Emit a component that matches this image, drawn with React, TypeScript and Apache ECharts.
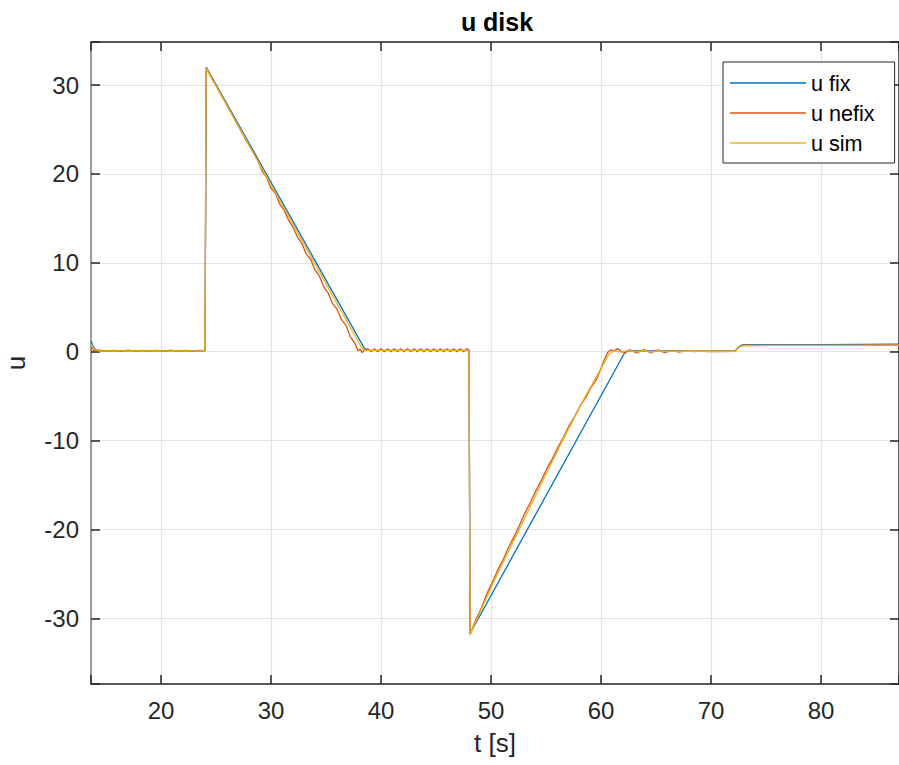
import React, { useEffect, useRef } from "react";
import * as echarts from "echarts";

const TITLE = "u disk";
const X_NAME = "t [s]";
const Y_NAME = "u";
const SERIES_NAMES = ["u fix", "u nefix", "u sim"];
const COLORS = ["#0072BD", "#D95319", "#EDB120"];

const X_MIN = 13.636;
const X_MAX = 87.09;
const Y_MIN = -37.38;
const Y_MAX = 34.84;

// u fix
const tFix = [13.64, 13.8, 14.0, 14.3, 24.0, 24.12, 38.5, 38.8, 48.0, 48.1, 62.2, 62.5, 72.2, 72.5, 72.9, 80, 87.1];
const uFix = [1.2, 0.7, 0.3, 0.1, 0.1, 32.0, 0.35, 0.15, 0.15, -31.7, 0.0, 0.1, 0.1, 0.55, 0.8, 0.8, 0.85];

// u nefix
const tNefix = [
  13.64, 13.9, 14.4, 15.1, 15.7, 16.4, 17.0, 17.7, 18.3, 19.0, 19.6, 20.3, 20.9, 21.6, 22.2, 22.9, 23.5, 24.0,
  24.1, 26.0, 28.0, 28.4, 28.8, 29.2, 29.6, 30.0, 30.4, 30.8, 31.2, 31.6, 32.0, 32.4, 32.8, 33.2, 33.6, 34.0,
  34.4, 34.8, 35.2, 35.6, 36.0, 36.4, 36.8, 37.2, 37.6, 37.9, 38.1, 38.3, 38.5,
  38.8, 39.1, 39.4, 39.7, 40.0, 40.3, 40.6, 40.9, 41.2, 41.5, 41.8, 42.1, 42.4, 42.7, 43.0, 43.3, 43.6, 43.9,
  44.2, 44.5, 44.8, 45.1, 45.4, 45.7, 46.0, 46.3, 46.6, 46.9, 47.2, 47.5, 47.8, 48.0,
  48.1, 48.6, 49.1, 49.6, 50.1, 50.6, 51.1, 51.6, 52.1, 52.6, 53.1, 53.6, 54.1, 54.6, 55.1, 55.6, 56.1, 56.6,
  57.1, 57.6, 58.1, 58.6, 59.1, 59.6, 60.0, 60.3, 60.6, 60.9, 61.2, 61.5, 61.9,
  62.2, 62.6, 63.2, 63.9, 64.5, 65.2, 65.8, 66.5, 67.1, 67.8, 68.4, 69.1, 69.7, 70.4, 71.0, 72.2,
  72.5, 72.9, 80.0, 87.1,
];
const uNefix = [
  0.5, 0.1, 0.18, 0.05, 0.16, 0.04, 0.17, 0.05, 0.15, 0.04, 0.16, 0.05, 0.17, 0.04, 0.15, 0.05, 0.16, 0.1,
  31.9, 27.7, 23.2, 22.4, 21.5, 20.3, 19.6, 18.4, 17.8, 16.6, 15.9, 14.8, 14.0, 12.9, 12.2, 11.0, 10.4, 9.2,
  8.5, 7.3, 6.6, 5.4, 4.8, 3.6, 3.0, 1.7, 1.0, 0.1, 0.3, -0.1, 0.2,
  0.35, 0.0, 0.35, 0.0, 0.35, 0.0, 0.35, 0.0, 0.35, 0.0, 0.35, 0.0, 0.35, 0.0, 0.35, 0.0, 0.35, 0.0,
  0.35, 0.0, 0.35, 0.0, 0.35, 0.0, 0.35, 0.0, 0.35, 0.0, 0.35, 0.0, 0.35, 0.2,
  -31.8, -30.2, -28.9, -27.3, -26.0, -24.6, -23.4, -22.0, -20.8, -19.5, -18.1, -16.9, -15.6, -14.4, -13.1, -12.0, -10.7, -9.6,
  -8.3, -7.3, -6.1, -5.2, -4.0, -3.1, -1.9, -0.9, -0.1, 0.2, 0.1, 0.35, 0.0,
  -0.15, 0.25, -0.15, 0.25, -0.12, 0.2, -0.1, 0.15, -0.05, 0.12, 0.0, 0.1, 0.0, 0.05, 0.02, 0.05,
  0.5, 0.7, 0.72, 0.75,
];

// u sim
const tSim = [
  13.64, 13.9, 14.3, 24.0, 24.1, 38.3, 38.6, 48.0, 48.1, 50.2, 52.6, 54.6, 56.5, 58.5, 60.0, 60.7, 61.2, 61.8,
  62.6, 63.2, 63.9, 64.5, 65.2, 65.8, 66.5, 67.1, 67.8, 72.2, 72.5, 72.9, 80.0, 87.1,
];
const uSim = [
  0.9, 0.3, 0.1, 0.1, 31.9, 0.3, 0.15, 0.15, -31.8, -26.0, -19.9, -14.8, -10.0, -5.2, -1.9, -0.3, 0.1, -0.05,
  0.15, -0.05, 0.15, -0.05, 0.12, 0.0, 0.1, 0.02, 0.08, 0.05, 0.5, 0.7, 0.72, 0.75,
];

const X_SPLIT = 7;
const Y_SPLIT = 7;

const FONT = '"Liberation Sans", Arial, Helvetica, sans-serif';
const DARK = "#262626";

function pairs(t: number[], u: number[]) {
  return t.map((v, i) => [v, u[i]]);
}

export default function App() {
  const ref = useRef<HTMLDivElement>(null);
  useEffect(() => {
    if (!ref.current) return;
    const chart = echarts.init(ref.current, undefined, { renderer: "svg" });
    const hideOdd = (v: number) => (Math.abs(v % 10) < 1e-6 ? String(v) : "");
    const baseX = {
      type: "value" as const,
      min: X_MIN,
      max: X_MAX,
      splitNumber: X_SPLIT,
    };
    const baseY = {
      type: "value" as const,
      min: Y_MIN,
      max: Y_MAX,
      splitNumber: Y_SPLIT,
    };
    const datasets = [pairs(tFix, uFix), pairs(tNefix, uNefix), pairs(tSim, uSim)];
    chart.setOption({
      animation: false,
      backgroundColor: "#ffffff",
      grid: { left: 91, right: 0, top: 42, bottom: 81, containLabel: false, outerBoundsMode: "none" },
      graphic: [
        {
          type: "text",
          x: 497,
          y: 22,
          style: {
            text: TITLE,
            font: `bold 25px ${FONT}`,
            fill: "#000",
            textAlign: "center",
            textVerticalAlign: "middle",
          },
        },
      ],
      legend: {
        orient: "vertical",
        left: 723,
        top: 62,
        padding: [8, 20, 7, 7],
        itemGap: 4,
        itemWidth: 76,
        itemHeight: 1.5,
        icon: "rect",
        backgroundColor: "#fff",
        borderColor: DARK,
        borderWidth: 1,
        borderRadius: 0,
        data: SERIES_NAMES,
        textStyle: { fontFamily: FONT, fontSize: 21.6, color: "#000", lineHeight: 26 },
      },
      xAxis: [
        {
          ...baseX,
          position: "bottom",
          name: X_NAME,
          nameLocation: "middle",
          nameGap: 46,
          nameTextStyle: { fontFamily: FONT, fontSize: 26, color: DARK },
          axisLine: { onZero: false, lineStyle: { color: DARK, width: 1.5 } },
          axisTick: { inside: true, length: 9, lineStyle: { color: DARK, width: 1.5 } },
          axisLabel: { fontFamily: FONT, fontSize: 24, color: DARK, margin: 14, formatter: hideOdd },
          splitLine: { show: true, lineStyle: { color: "#e3e3e3", width: 1.2 } },
        },
        {
          ...baseX,
          position: "top",
          axisLine: { onZero: false, lineStyle: { color: DARK, width: 1.5 } },
          axisTick: { inside: true, length: 9, lineStyle: { color: DARK, width: 1.5 } },
          axisLabel: { show: false },
          splitLine: { show: false },
        },
      ],
      yAxis: [
        {
          ...baseY,
          position: "left",
          name: Y_NAME,
          nameLocation: "middle",
          nameGap: 62,
          nameRotate: 90,
          nameTextStyle: { fontFamily: FONT, fontSize: 26, color: DARK },
          axisLine: { onZero: false, lineStyle: { color: "#808080", width: 1.5 } },
          axisTick: { inside: true, length: 9, lineStyle: { color: DARK, width: 1.5 } },
          axisLabel: { fontFamily: FONT, fontSize: 24, color: DARK, margin: 12, formatter: hideOdd },
          splitLine: { show: true, lineStyle: { color: "#e3e3e3", width: 1.2 } },
        },
        {
          ...baseY,
          position: "right",
          axisLine: { onZero: false, lineStyle: { color: DARK, width: 1.5 } },
          axisTick: { inside: true, length: 9, lineStyle: { color: DARK, width: 1.5 } },
          axisLabel: { show: false },
          splitLine: { show: false },
        },
      ],
      series: SERIES_NAMES.map((name, i) => ({
        name,
        type: "line",
        xAxisIndex: 0,
        yAxisIndex: 0,
        data: datasets[i],
        showSymbol: false,
        symbol: "none",
        color: COLORS[i],
        lineStyle: { color: COLORS[i], width: 1.3 },
        z: 2 + i,
      })),
    });
    return () => chart.dispose();
  }, []);
  return (
    <div
      ref={ref}
      style={{ position: "fixed", left: 0, top: 0, width: 899, height: 765, background: "#fff" }}
    />
  );
}
